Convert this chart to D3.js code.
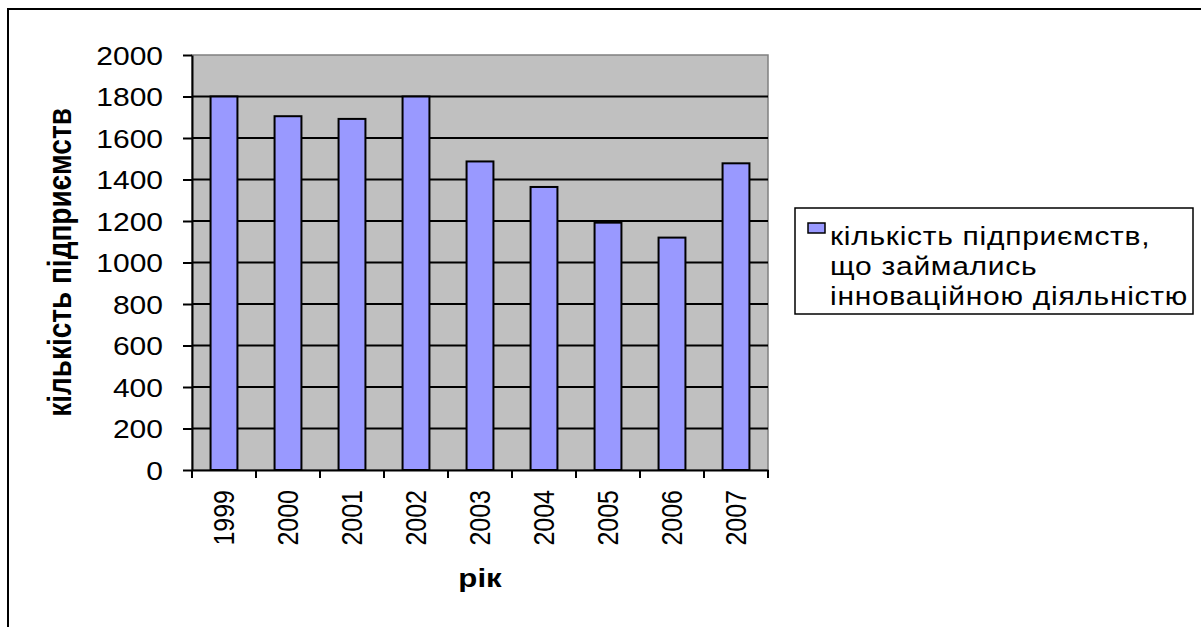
<!DOCTYPE html>
<html>
<head>
<meta charset="utf-8">
<script src="https://cdn.jsdelivr.net/npm/d3@7"></script>
<style>
  body { margin: 0; background: #fff; }
  text { font-family: "Liberation Sans", Arial, sans-serif; fill: #000; }
</style>
</head>
<body>
<div id="chart"></div>
<script>
// data
var years = ["1999","2000","2001","2002","2003","2004","2005","2006","2007"];
var firms = [1800, 1705, 1692, 1800, 1487, 1364, 1192, 1120, 1478];
var yTicks = [0, 200, 400, 600, 800, 1000, 1200, 1400, 1600, 1800, 2000];
var legendLines = ["кількість підприємств,", "що займались", "інноваційною діяльністю"];
var yTitle = "кількість підприємств";
var xTitle = "рік";

// the source picture is stretched sideways a bit, so text gets a wider scale
var stretch = 1.2;

var W = 1201, H = 627;
var plot = {left: 192, right: 768, top: 55, bottom: 470};

var svg = d3.select("#chart").append("svg")
    .attr("width", W)
    .attr("height", H);

svg.append("rect")
    .attr("width", W).attr("height", H)
    .attr("fill", "#fff");

// outer chart border (runs off the right and bottom edges)
svg.append("rect")
    .attr("x", 8).attr("y", 9)
    .attr("width", W + 20).attr("height", H + 20)
    .attr("fill", "none")
    .attr("stroke", "#000")
    .attr("stroke-width", 2);

var x = d3.scaleBand()
    .domain(years)
    .range([plot.left, plot.right])
    .paddingInner(0.58)
    .paddingOuter(0.29);

var y = d3.scaleLinear()
    .domain([0, 2000])
    .range([plot.bottom, plot.top]);

// plot background
svg.append("rect")
    .attr("x", plot.left).attr("y", plot.top)
    .attr("width", plot.right - plot.left)
    .attr("height", plot.bottom - plot.top)
    .attr("fill", "#c0c0c0")
    .attr("stroke", "#808080")
    .attr("stroke-width", 1.5);

// gridlines
svg.append("g")
  .selectAll("line")
  .data(yTicks.filter(function(d) { return d > 0 && d < 2000; }))
  .enter().append("line")
    .attr("x1", plot.left).attr("x2", plot.right)
    .attr("y1", function(d) { return y(d); })
    .attr("y2", function(d) { return y(d); })
    .attr("stroke", "#000")
    .attr("stroke-width", 2);

// bars
svg.append("g")
  .selectAll("rect")
  .data(firms)
  .enter().append("rect")
    .attr("x", function(d, i) { return x(years[i]); })
    .attr("y", function(d) { return y(d); })
    .attr("width", x.bandwidth())
    .attr("height", function(d) { return y(0) - y(d); })
    .attr("fill", "#9999ff")
    .attr("stroke", "#000")
    .attr("stroke-width", 2);

// y axis
var gy = svg.append("g")
    .attr("transform", "translate(" + plot.left + ",0)")
    .call(d3.axisLeft(y).tickValues(yTicks).tickFormat(d3.format("d")).tickSize(9).tickSizeOuter(0));
gy.select(".domain").attr("stroke", "#000").attr("stroke-width", 2);
gy.selectAll(".tick line").attr("stroke", "#000").attr("stroke-width", 2);
gy.selectAll(".tick text")
    .attr("x", 0).attr("dy", "0.36em")
    .attr("transform", "translate(-29,0) scale(" + stretch + ",1)")
    .style("font-size", "25px")
    .style("font-family", "Liberation Sans, Arial, sans-serif")
    .attr("text-anchor", "end");

// x axis: line, ticks between categories, rotated year labels
var gx = svg.append("g")
    .attr("transform", "translate(0," + plot.bottom + ")")
    .call(d3.axisBottom(x).tickSize(0).tickSizeOuter(0));
gx.select(".domain").attr("stroke", "#000").attr("stroke-width", 2);
gx.selectAll(".tick text")
    .attr("x", 0).attr("y", 0).attr("dy", "0.36em")
    .attr("text-anchor", "end")
    .attr("transform", "translate(-1,20) scale(" + stretch + ",1) rotate(-90)")
    .style("font-size", "25px")
    .style("font-family", "Liberation Sans, Arial, sans-serif");

var bounds = years.map(function(d) { return x(d) + x.bandwidth() / 2 - x.step() / 2; });
bounds.push(bounds[bounds.length - 1] + x.step());
gx.append("g")
  .selectAll("line")
  .data(bounds)
  .enter().append("line")
    .attr("x1", function(d) { return d; })
    .attr("x2", function(d) { return d; })
    .attr("y1", 0).attr("y2", 8)
    .attr("stroke", "#000")
    .attr("stroke-width", 2);

// axis titles
svg.append("text")
    .attr("transform", "translate(" + ((plot.left + plot.right) / 2) + ",587) scale(" + stretch + ",1)")
    .attr("text-anchor", "middle")
    .style("font-size", "26px")
    .style("font-weight", "bold")
    .text(xTitle);

svg.append("text")
    .attr("transform", "translate(71," + ((plot.top + plot.bottom) / 2) + ") scale(" + stretch + ",1) rotate(-90)")
    .attr("text-anchor", "middle")
    .style("font-size", "28px")
    .style("font-weight", "bold")
    .text(yTitle);

// legend
var lg = svg.append("g");
lg.append("rect")
    .attr("x", 795).attr("y", 208)
    .attr("width", 398).attr("height", 106)
    .attr("fill", "#fff")
    .attr("stroke", "#000")
    .attr("stroke-width", 1.5);
lg.append("rect")
    .attr("x", 808).attr("y", 223)
    .attr("width", 17).attr("height", 10)
    .attr("fill", "#9999ff")
    .attr("stroke", "#000")
    .attr("stroke-width", 1.5);
lg.selectAll("text.item")
  .data(legendLines)
  .enter().append("text")
    .attr("class", "item")
    .attr("transform", function(d, i) { return "translate(830," + (245 + i * 30) + ") scale(" + stretch + ",1)"; })
    .style("font-size", "25px")
    .style("letter-spacing", "0.6px")
    .text(function(d) { return d; });
</script>
</body>
</html>
